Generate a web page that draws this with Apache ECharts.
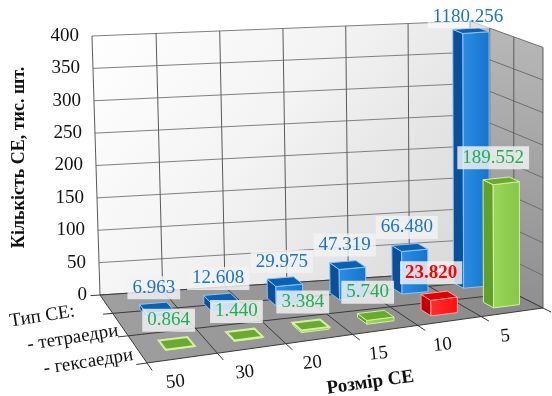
<!DOCTYPE html>
<html>
<head>
<meta charset="utf-8">
<script src="https://cdn.jsdelivr.net/npm/echarts@6/dist/echarts.min.js"></script>
<style>
  html, body { margin: 0; padding: 0; background: #ffffff; }
  #chart { width: 552px; height: 396px; }
</style>
</head>
<body>
<div id="chart"></div>
<script>
// Size of the structural element (category axis)
const sizes = ['50', '30', '20', '15', '10', '5'];
// Number of elements, thousand pieces
const tetrahedra = [6.963, 12.608, 29.975, 47.319, 66.480, 1180.256];
const hexahedra = [0.864, 1.440, 3.384, 5.740, 23.820, 189.552];
// Value axis ticks
const valueTicks = [0, 50, 100, 150, 200, 250, 300, 350, 400];
// Depth axis captions
const depthLabels = ['Тип СЕ:', '- тетраедри', '- гексаедри'];
const yAxisName = 'Кількість СЕ, тис. шт.';
const xAxisName = 'Розмір СЕ';
// index of the hexahedra column drawn in red
const hexaHighlight = 4;

const yMax = valueTicks[valueTicks.length - 1];
const FAMILY = "'Liberation Serif', 'Times New Roman', serif";

// depth placement (0 = back wall, 1 = front edge of the floor)
const ROW_LINES = [0.27, 0.6];
const ROW_TETRA = 0.31;
const ROW_HEXA = 0.79;

const PAL_BLUE = { left: '#0a4f98', front: '#1673cb', frontHi: '#2a8ee4', top: '#0d5fb0', edge: 'rgba(140,200,250,0.95)', text: '#1b74c5' };
const PAL_GREEN = { left: '#62a02c', front: '#86c746', frontHi: '#9ad65a', top: '#6aaa30', edge: '#d6f0a2', text: '#1fae55' };
const PAL_RED = { left: '#c40000', front: '#ff0d0d', frontHi: '#ff3030', top: '#e20000', edge: '#ffa0a0', text: '#ff0000' };

// oblique/perspective projection of the 3D box built on top of the cartesian grid
function projector(params, api) {
  const cs = params.coordSys;
  const x0 = cs.x, y0 = cs.y + cs.height, W = cs.width;
  const B0 = [x0, y0], B1 = [x0 + W, y0 - 24];
  const F0 = [x0 + 47, y0 + 68], F1 = [x0 + 443, y0 + 13];
  const zeroY = api.coord([0, 0])[1];
  const hOf = v => zeroY - api.coord([0, Math.min(v, yMax)])[1];
  const P = (u, q, h) => {
    const a = 0.02 + 0.06 * q;
    const p = (1 + a) * u / (1 + a * u);
    const bx = B0[0] + (B1[0] - B0[0]) * p, by = B0[1] + (B1[1] - B0[1]) * p;
    const fx = F0[0] + (F1[0] - F0[0]) * p, fy = F0[1] + (F1[1] - F0[1]) * p;
    const x = bx + (fx - bx) * q, y = by + (fy - by) * q;
    const s = (1 - p) * (1 - q) + p * (1 - q) * 0.965 + (1 - p) * q * 1.04 + p * q * 1.006;
    return [x - 0.031 * (1 - p) * h * s, y - h * s];
  };
  const uOf = i => (api.coord([i, 0])[0] - x0) / W;
  const c0 = uOf(0), band = uOf(1) - uOf(0);
  const edge = k => c0 - band / 2 + k * band;
  return { P, hOf, uOf, band, edge };
}

function line(a, b, stroke, w) {
  return { type: 'line', silent: true, shape: { x1: a[0], y1: a[1], x2: b[0], y2: b[1] }, style: { stroke: stroke, lineWidth: w || 1 } };
}
function poly(points, fill, stroke, w) {
  return { type: 'polygon', silent: true, shape: { points: points }, style: { fill: fill, stroke: stroke || null, lineWidth: w || 0 } };
}
function text(x, y, str, opt) {
  const size = opt.size || 18;
  return {
    type: 'text', silent: true, x: x, y: y, rotation: opt.rotation || 0,
    style: {
      text: str, fill: opt.fill || '#111',
      font: (opt.bold ? 'bold ' : '') + size + 'px ' + FAMILY,
      align: opt.align || 'center', verticalAlign: 'middle',
      backgroundColor: opt.bg || null, padding: opt.padding || 0
    },
    z2: opt.z2 || 0
  };
}

function renderFrame(params, api) {
  const pr = projector(params, api);
  const P = pr.P, H = pr.hOf(yMax);
  const kids = [];
  // walls and floor
  kids.push(poly([P(0, 0, 0), P(1, 0, 0), P(1, 0, H), P(0, 0, H)],
    new echarts.graphic.LinearGradient(0, 0, 1, 1, [{ offset: 0, color: '#ffffff' }, { offset: 0.45, color: '#f3f3f3' }, { offset: 1, color: '#d6d6d6' }])));
  kids.push(poly([P(1, 0, 0), P(1, 1, 0), P(1, 1, H), P(1, 0, H)],
    new echarts.graphic.LinearGradient(0, 0, 0, 1, [{ offset: 0, color: '#b9b9b9' }, { offset: 1, color: '#8f8f8f' }])));
  kids.push(poly([P(0, 0, 0), P(1, 0, 0), P(1, 1, 0), P(0, 1, 0)],
    new echarts.graphic.LinearGradient(0, 0, 1, 1, [{ offset: 0, color: '#a0a0a0' }, { offset: 1, color: '#888888' }])));
  // value grid lines on back and side walls
  valueTicks.forEach(v => {
    const h = pr.hOf(v);
    kids.push(line(P(0, 0, h), P(1, 0, h), '#808080', 1));
    kids.push(line(P(1, 0, h), P(1, 1, h), '#6e6e6e', 1));
  });
  // category boundaries on back wall and floor
  for (let k = 0; k <= sizes.length; k++) {
    const e = pr.edge(k);
    kids.push(line(P(e, 0, 0), P(e, 0, H), '#5a5a5a', 1));
    kids.push(line(P(e, 0, 0), P(e, 1.11, 0), '#3a3a3a', 1));
  }
  // depth divisions on floor and side wall
  [0].concat(ROW_LINES, [1]).forEach(q => {
    kids.push(line(P(-0.025, q, 0), P(1, q, 0), '#3a3a3a', 1));
    kids.push(line(P(1, q, 0), P(1, q, H), '#5c5c5c', 1));
  });
  // value tick labels
  valueTicks.forEach(v => {
    const pt = P(0, 0, pr.hOf(v));
    kids.push(text(pt[0] - 13, pt[1], String(v), { align: 'right', size: 19 }));
  });
  // size labels under the front edge
  sizes.forEach((s, i) => {
    const pt = P(pr.uOf(i), 1, 0);
    kids.push(text(pt[0] - 7, pt[1] + 24, s, { size: 19, rotation: 6 * Math.PI / 180 }));
  });
  // depth captions
  const depthAnchors = [ROW_LINES[0], ROW_LINES[1], 1];
  const depthShift = [[-38, -2], [-10, -5], [-14, -8]];
  depthLabels.forEach((s, i) => {
    const pt = P(0, depthAnchors[i], 0);
    kids.push(text(pt[0] + depthShift[i][0], pt[1] + depthShift[i][1], s, { align: 'right', size: 19, rotation: 9 * Math.PI / 180 }));
  });
  // axis titles
  const mid = P(0.55, 1, 0);
  kids.push(text(mid[0] - 2, mid[1] + 51, xAxisName, { bold: true, size: 19, rotation: 8 * Math.PI / 180 }));
  const yMid = P(0, 0, H / 2);
  kids.push(text(19, yMid[1] - 8, yAxisName, { bold: true, size: 18, rotation: Math.PI / 2 }));
  return { type: 'group', children: kids };
}

function makeBarRenderer(rowQ, shift, palFor) {
  return function (params, api) {
    const pr = projector(params, api);
    const P = pr.P;
    const i = api.value(0), v = api.value(1);
    const pal = palFor(i);
    const h = pr.hOf(v);
    const uc = pr.uOf(i) + shift;
    const hw = pr.band * 0.21, hd = 0.07;
    const u0 = uc - hw, u1 = uc + hw, q0 = rowQ - hd, q1 = rowQ + hd;
    const left = [P(u0, q0, 0), P(u0, q1, 0), P(u0, q1, h), P(u0, q0, h)];
    const front = [P(u0, q1, 0), P(u1, q1, 0), P(u1, q1, h), P(u0, q1, h)];
    const top = [P(u0, q0, h), P(u0, q1, h), P(u1, q1, h), P(u1, q0, h)];
    const kids = [
      poly(left, pal.left, pal.edge, 1),
      poly(front, new echarts.graphic.LinearGradient(0, 0, 1, 0, [{ offset: 0, color: pal.frontHi }, { offset: 1, color: pal.front }]), pal.edge, 1),
      poly(top, pal.top, pal.edge, h < 3 ? 2 : 1)
    ];
    const tc = P(uc, rowQ, h);
    const clipped = v > yMax;
    const off = rowQ === ROW_TETRA ? [-3, clipped ? -14 : -20] : [-8, -23];
    kids.push(text(tc[0] + off[0], tc[1] + off[1], v.toFixed(3), {
      fill: pal.text, size: 19, bold: pal === PAL_RED,
      bg: clipped ? 'rgba(255,255,255,0.6)' : 'rgba(242,242,242,0.84)', padding: [3, 5, 1, 5], z2: 20
    }));
    return { type: 'group', children: kids };
  };
}

const chart = echarts.init(document.getElementById('chart'), null, { renderer: 'canvas' });
chart.setOption({
  animation: false,
  backgroundColor: '#ffffff',
  grid: { left: 100, right: 82, top: 36, bottom: 101, show: false },
  xAxis: { type: 'category', data: sizes, show: false },
  yAxis: { type: 'value', min: 0, max: yMax, interval: 50, show: false },
  tooltip: { show: false },
  series: [
    { type: 'custom', name: 'frame', clip: false, silent: true, z: 1, data: [[0, 0]], renderItem: renderFrame },
    {
      type: 'custom', name: 'тетраедри', clip: false, silent: true, z: 2,
      data: tetrahedra.map((v, i) => [i, v]),
      renderItem: makeBarRenderer(ROW_TETRA, 0.025, () => PAL_BLUE)
    },
    {
      type: 'custom', name: 'гексаедри', clip: false, silent: true, z: 2,
      data: hexahedra.map((v, i) => [i, v]),
      renderItem: makeBarRenderer(ROW_HEXA, 0.012, i => (i === hexaHighlight ? PAL_RED : PAL_GREEN))
    }
  ]
});
</script>
</body>
</html>
